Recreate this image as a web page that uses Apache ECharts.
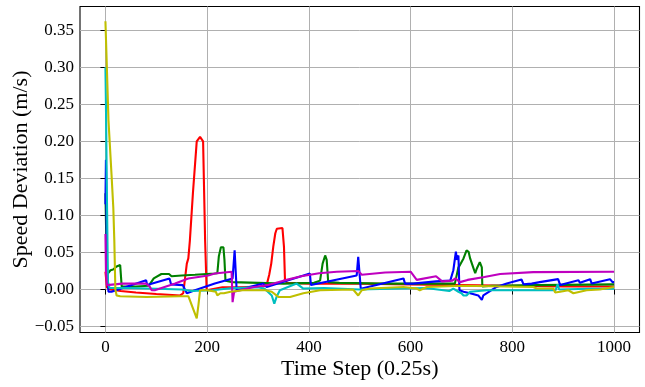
<!DOCTYPE html>
<html><head><meta charset="utf-8">
<script src="https://cdn.jsdelivr.net/npm/echarts@6/dist/echarts.min.js"></script>
<style>html,body{margin:0;padding:0;background:#fff}#c{width:645px;height:387px}</style>
</head><body><div id="c"></div>
<script>
const xTicks = [0, 200, 400, 600, 800, 1000];
const yTicks = [-0.05, 0, 0.05, 0.10, 0.15, 0.20, 0.25, 0.30, 0.35];
const xTitle = 'Time Step (0.25s)';
const yTitle = 'Speed Deviation (m/s)';

const redX = [0, 3, 10, 30, 60, 100, 147, 153, 160, 163, 166, 172, 179.5, 186, 189, 192, 196, 199, 230, 260, 310, 317, 322, 326, 330, 334, 337, 348, 351, 353, 357, 400, 500, 600, 700, 800, 900, 1000];
const redY = [0.024, 0.003, 0.000, -0.002, -0.004, -0.006, -0.008, -0.005, 0.035, 0.042, 0.066, 0.13, 0.200, 0.206, 0.206, 0.200, 0.066, -0.001, 0.003, 0.003, 0.004, 0.006, 0.020, 0.035, 0.058, 0.076, 0.082, 0.083, 0.058, 0.013, 0.009, 0.008, 0.008, 0.007, 0.006, 0.005, 0.004, 0.004];

const greenX = [0, 3, 10, 15, 22, 29, 32, 60, 85, 95, 110, 125, 130, 150, 176, 215, 220, 223, 227, 229, 232, 234, 236, 250, 300, 350, 410, 422, 427, 432, 435, 438, 460, 550, 640, 687, 694, 697, 704, 710, 714, 717, 720, 723, 727, 730, 736, 740, 741, 760, 850, 1000];
const greenY = [0.13, 0.02, 0.026, 0.027, 0.031, 0.033, 0.004, 0.004, 0.005, 0.015, 0.021, 0.021, 0.018, 0.019, 0.020, 0.0216, 0.022, 0.045, 0.057, 0.058, 0.057, 0.040, 0.012, 0.010, 0.009, 0.008, 0.009, 0.012, 0.035, 0.046, 0.040, 0.010, 0.009, 0.008, 0.008, 0.008, 0.030, 0.033, 0.042, 0.053, 0.051, 0.042, 0.044, 0.030, 0.022, 0.028, 0.037, 0.030, 0.004, 0.005, 0.006, 0.007];

const blueX = [0, 1, 3, 6, 12, 80, 82, 126, 129, 152, 160, 176, 215, 250, 254, 257, 258, 310, 317, 402, 404, 494, 497, 500, 502, 586, 589, 605, 650, 678, 684, 689, 691, 694, 696, 704, 717, 733, 740, 743, 769, 789, 818, 822, 838, 854, 890, 894, 930, 933, 953, 956, 992, 997, 1000];
const blueY = [0.115, 0.175, 0.03, -0.003, -0.003, 0.0126, 0.006, 0.015, 0.007, 0.006, -0.005, -0.001, 0.008, 0.015, 0.053, 0.053, -0.001, 0.008, 0.0035, 0.0216, 0.006, 0.019, 0.044, 0.042, 0.001, 0.015, 0.008, 0.008, 0.011, 0.012, 0.026, 0.051, 0.040, 0.046, -0.001, -0.003, -0.005, -0.008, -0.014, -0.008, 0.0035, 0.008, 0.0135, 0.007, 0.008, 0.010, 0.014, 0.006, 0.0126, 0.009, 0.014, 0.008, 0.014, 0.010, 0.010];

const cyanX = [0, 1, 3, 5, 8, 50, 100, 150, 170, 210, 250, 300, 313, 327, 332, 337, 343, 376, 389, 430, 500, 560, 630, 676, 684, 694, 700, 704, 710, 717, 750, 800, 885, 889, 892, 950, 1000];
const cyanY = [0.30, 0.25, 0.12, 0.01, 0.002, 0.002, 0.001, 0.000, -0.002, -0.001, 0.002, 0.003, 0.001, -0.008, -0.019, -0.009, -0.001, 0.008, 0.0013, 0.002, 0.000, 0.001, 0.002, -0.002, 0.0013, -0.003, -0.005, -0.008, -0.008, -0.003, -0.001, -0.001, -0.001, 0.007, 0.000, 0.001, 0.001];

const magentaX = [0, 1, 3, 33, 80, 87, 91, 97, 137, 163, 202, 215, 248, 250, 253, 255, 290, 320, 350, 385, 420, 455, 497, 504, 550, 600, 612, 650, 662, 682, 688, 697, 712, 745, 776, 841, 1000];
const magentaY = [0.075, 0.025, 0.006, 0.008, 0.008, 0.004, -0.001, -0.001, 0.008, 0.015, 0.019, 0.0216, 0.024, -0.017, -0.003, -0.001, 0.003, 0.006, 0.012, 0.018, 0.022, 0.024, 0.025, 0.020, 0.023, 0.024, 0.013, 0.018, 0.011, 0.012, 0.015, 0.010, 0.013, 0.017, 0.021, 0.0235, 0.024];

const yellowX = [0, 6, 12, 15.5, 17.5, 19.5, 22, 29, 81, 147, 163, 179.5, 183, 186, 200, 217, 220, 226, 233, 246, 270, 314, 327, 340, 363, 389, 422, 487, 497, 504, 520, 586, 612, 618, 632, 700, 841, 848, 881, 884, 894, 910, 920, 946, 972, 1000];
const yellowY = [0.362, 0.228, 0.155, 0.11, 0.065, 0.0, -0.008, -0.009, -0.010, -0.009, -0.009, -0.039, -0.02, -0.001, -0.001, -0.003, -0.008, -0.005, -0.005, -0.003, -0.001, -0.001, -0.003, -0.010, -0.010, -0.005, -0.001, 0.000, -0.008, -0.001, 0.0013, 0.0035, 0.0013, -0.001, 0.0035, 0.005, 0.0035, 0.0013, 0.0013, -0.004, -0.003, -0.001, -0.005, -0.001, 0.0, 0.0035];

const seriesDefs = [
  {name: 'r', color: '#ff0000', x: redX, y: redY},
  {name: 'g', color: '#008000', x: greenX, y: greenY},
  {name: 'b', color: '#0000ff', x: blueX, y: blueY},
  {name: 'c', color: '#00bfbf', x: cyanX, y: cyanY},
  {name: 'm', color: '#bf00bf', x: magentaX, y: magentaY},
  {name: 'y', color: '#bfbf00', x: yellowX, y: yellowY}
];

const FONT = "'Liberation Serif', 'Times New Roman', serif";
const chart = echarts.init(document.getElementById('c'), null, {renderer: 'canvas'});
chart.setOption({
  animation: false,
  backgroundColor: '#ffffff',
  grid: {left: 80, right: 5.5, top: 6.5, bottom: 54.5, show: true, borderColor: '#000', borderWidth: 1.1, backgroundColor: 'transparent', containLabel: false, outerBoundsMode: 'none'},
  xAxis: {
    type: 'value', min: -50, max: 1050, splitNumber: 5,
    name: xTitle, nameLocation: 'middle', nameGap: 26, nameMoveOverlap: false,
    nameTextStyle: {fontFamily: FONT, fontSize: 22, color: '#000'},
    axisLine: {show: false},
    axisTick: {show: true, inside: false, length: 5, lineStyle: {color: '#000', width: 1}, customValues: xTicks},
    axisLabel: {fontFamily: FONT, fontSize: 17, color: '#000', margin: 7, customValues: xTicks, formatter: v => String(v)},
    splitLine: {show: true, lineStyle: {color: '#b0b0b0', width: 1}}
  },
  yAxis: {
    type: 'value', min: -0.058, max: 0.382, splitNumber: 8,
    name: yTitle, nameLocation: 'middle', nameGap: 48, nameMoveOverlap: false,
    nameTextStyle: {fontFamily: FONT, fontSize: 22, color: '#000'},
    axisLine: {show: false},
    axisTick: {show: true, inside: false, length: 5, lineStyle: {color: '#000', width: 1}, customValues: yTicks},
    axisLabel: {fontFamily: FONT, fontSize: 17, color: '#000', margin: 6, customValues: yTicks,
      formatter: v => v.toFixed(2).replace('-', '\u2212')},
    splitLine: {show: true, lineStyle: {color: '#b0b0b0', width: 1}}
  },
  series: seriesDefs.map(s => ({
    name: s.name, type: 'line', showSymbol: false, symbol: 'none', clip: true,
    lineStyle: {color: s.color, width: 2.1}, itemStyle: {color: s.color},
    data: s.x.map((xv, i) => [xv, s.y[i]])
  }))
});
</script></body></html>
